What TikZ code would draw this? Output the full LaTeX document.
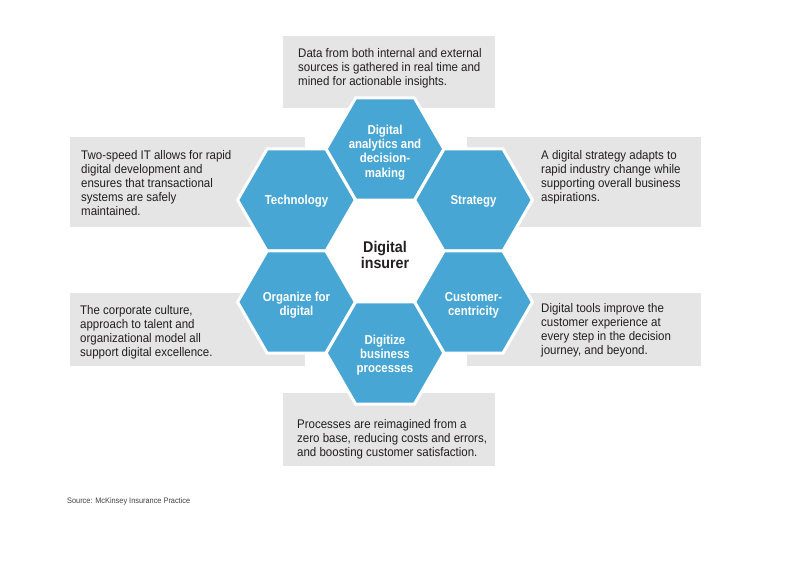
\documentclass[tikz,border=0pt]{standalone}
\usepackage{fontspec}
\setmainfont{Liberation Sans}[FakeStretch=0.92]
\newfontfamily\hexfont{Liberation Sans}[FakeStretch=0.88]
\usetikzlibrary{shapes.geometric}
\definecolor{hexblue}{HTML}{47A6D3}
\definecolor{boxgray}{HTML}{E5E5E5}
\definecolor{txt}{HTML}{231F20}
\begin{document}
\begin{tikzpicture}[x=1pt,y=-1pt,
  graybox/.style={fill=boxgray, draw=none, inner sep=0pt, outer sep=0pt, anchor=north west},
  bodytext/.style={anchor=north west, inner sep=0pt, align=left, text=txt, font=\fontsize{12.5}{14}\selectfont},
  hexa/.style={regular polygon, regular polygon sides=6, minimum size=117.8pt, inner sep=0pt,
    fill=hexblue, draw=white, line width=3pt},
  hexlabel/.style={inner sep=0pt, text=white, align=center,
    font=\hexfont\bfseries\fontsize{13}{14.3}\selectfont},
]
\useasboundingbox[fill=white] (0,0) rectangle (800,560);

% gray boxes
\node[graybox, minimum width=212pt, minimum height=72pt] (btop) at (283,36) {};
\node[graybox, minimum width=235pt, minimum height=90pt] (blt) at (70,137) {};
\node[graybox, minimum width=234pt, minimum height=90pt] (brt) at (467,137) {};
\node[graybox, minimum width=235pt, minimum height=73pt] (blb) at (70,293) {};
\node[graybox, minimum width=234pt, minimum height=73pt] (brb) at (467,293) {};
\node[graybox, minimum width=212pt, minimum height=73pt] (bbot) at (283,393) {};

% descriptions
\node[bodytext] (ttop) at (298,48) {Data from both internal and external\\sources is gathered in real time and\\mined for actionable insights.};
\node[bodytext] (tlt) at (81,150) {Two-speed IT allows for rapid\\digital development and\\ensures that transactional\\systems are safely\\maintained.};
\node[bodytext] (trt) at (541,150) {A digital strategy adapts to\\rapid industry change while\\supporting overall business\\aspirations.};
\node[bodytext] (tlb) at (80,305) {The corporate culture,\\approach to talent and\\organizational model all\\support digital excellence.};
\node[bodytext] (trb) at (541,303) {Digital tools improve the\\customer experience at\\every step in the decision\\journey, and beyond.};
\node[bodytext] (tbot) at (297,419) {Processes are reimagined from a\\zero base, reducing costs and errors,\\and boosting customer satisfaction.};

% hexagons
\node[hexa] (hana) at (385,149) {};
\node[hexa] (htec) at (296.5,200) {};
\node[hexa] (hstr) at (473.5,200) {};
\node[hexa] (horg) at (296.5,302) {};
\node[hexa] (hcus) at (473.5,302) {};
\node[hexa] (hdig) at (385,353) {};

\node[hexlabel] (lana) at ([yshift=-3.5pt]hana.center) {Digital\\analytics and\\decision-\\making};
\node[hexlabel] (ltec) at ([yshift=-1pt]htec.center) {Technology};
\node[hexlabel] (lstr) at ([yshift=-1pt]hstr.center) {Strategy};
\node[hexlabel] (lorg) at ([yshift=-3pt]horg.center) {Organize for\\digital};
\node[hexlabel] (lcus) at ([yshift=-3pt]hcus.center) {Customer-\\centricity};
\node[hexlabel] (ldig) at ([yshift=-2pt]hdig.center) {Digitize\\business\\processes};

% centre
\node[align=center, inner sep=0pt, text=txt, font=\bfseries\fontsize{15.5}{16.5}\selectfont] (core) at (385,255) {Digital\\insurer};

% source
\node[anchor=base west, inner sep=0pt, text=txt!85, font=\fontsize{8}{9}\selectfont] (src) at (67,503) {Source: McKinsey Insurance Practice};
\end{tikzpicture}
\end{document}
